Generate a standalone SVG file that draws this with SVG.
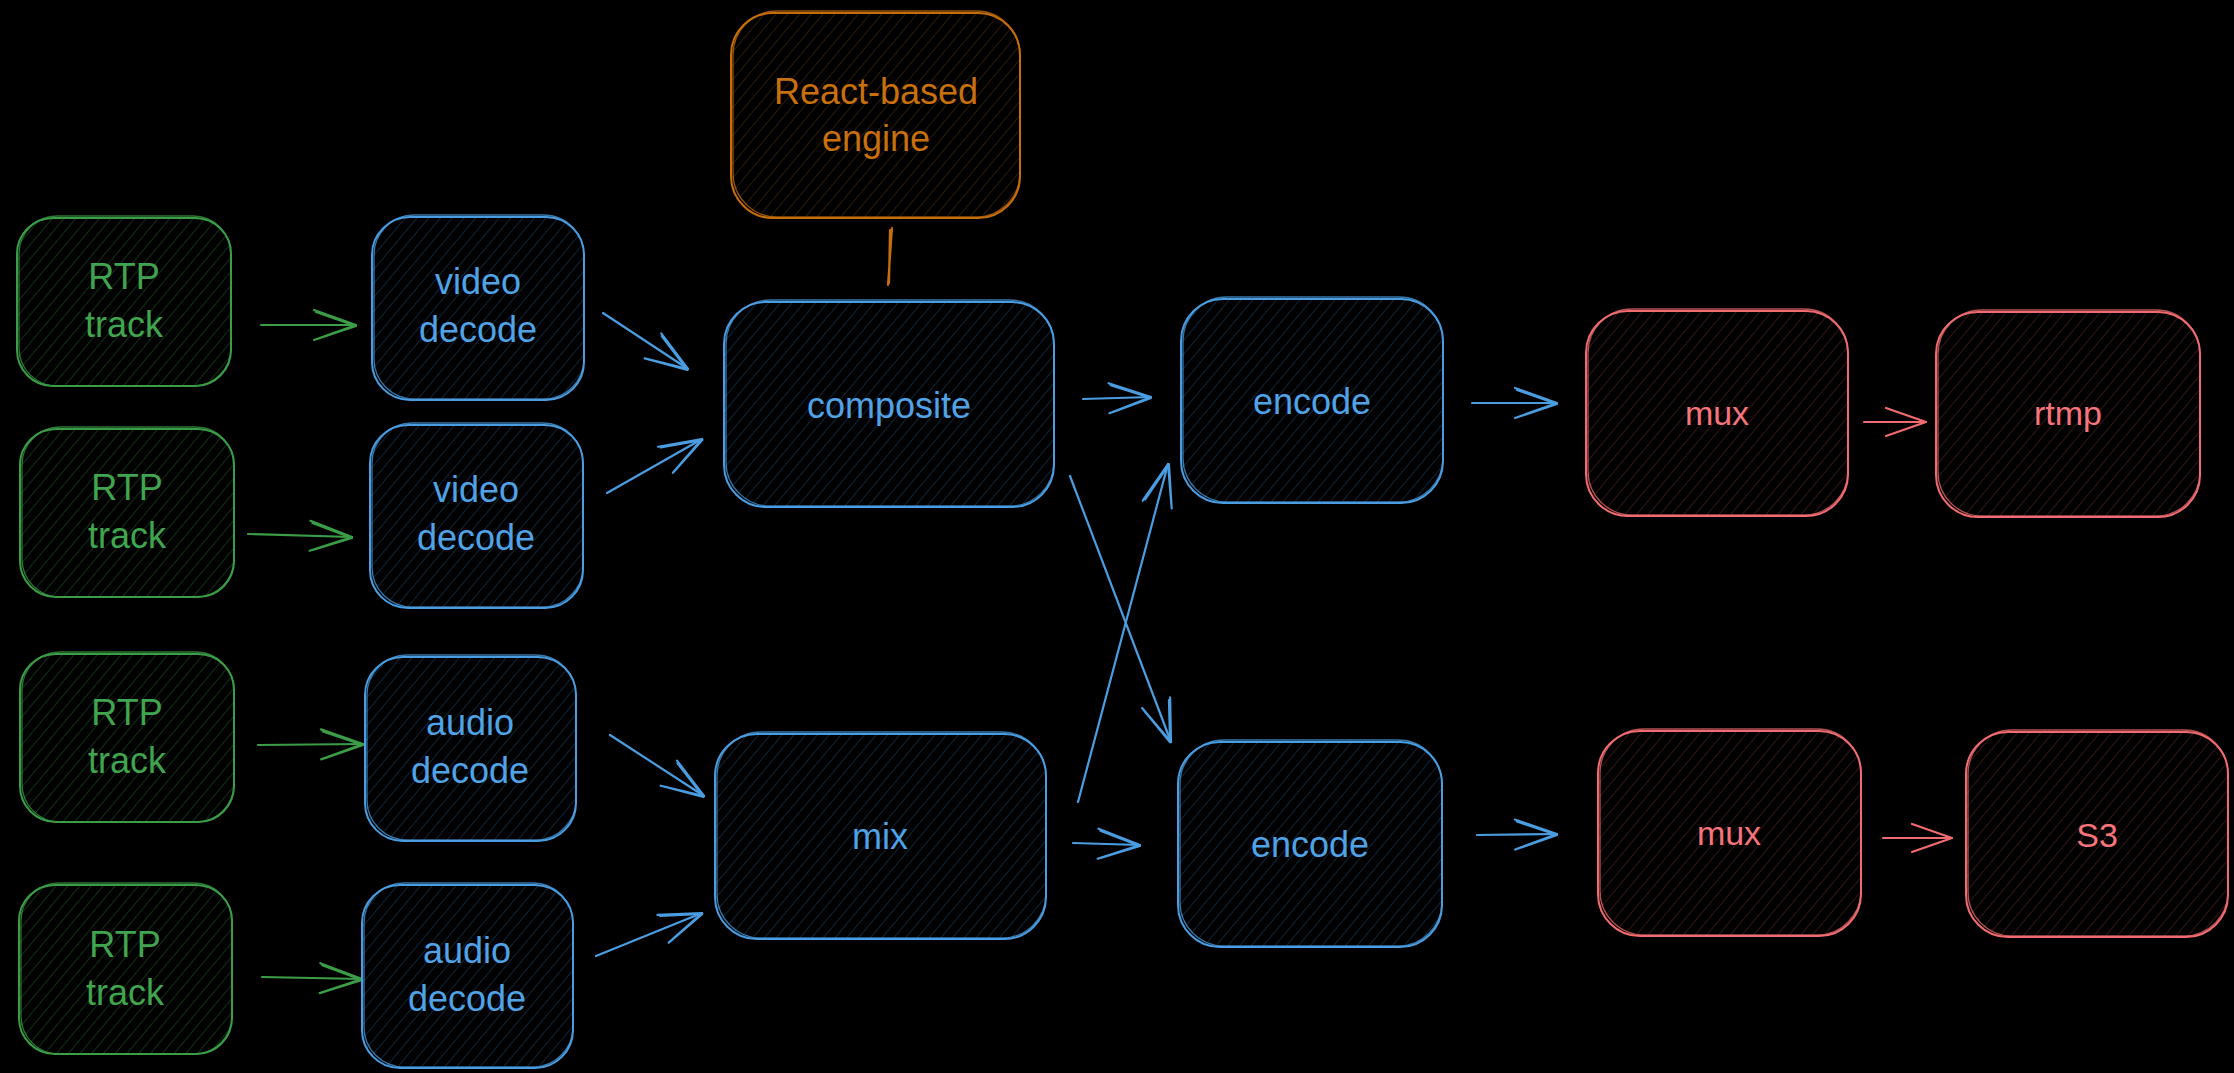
<svg xmlns="http://www.w3.org/2000/svg" width="2234" height="1073" viewBox="0 0 2234 1073">
<style>
.t{font-family:"Liberation Sans","Noto Sans",sans-serif;font-size:36px;text-anchor:middle}
.ts{font-size:34px}
.g .s{stroke:#3b9e47}.g text{fill:#40a54f}.g .f{fill:url(#hg)}
.b .s{stroke:#4a9de0}.b text{fill:#4fa3e6}.b .f{fill:url(#hb)}
.o .s{stroke:#c76e0c}.o text{fill:#c8700d}.o .f{fill:url(#ho)}
.r .s{stroke:#f06c70}.r text{fill:#f6747a}.r .f{fill:url(#hr)}
.s{fill:none;stroke-width:2;stroke-linejoin:round}
.s2{stroke-width:1.3;opacity:.75}
.c{fill:none;stroke-width:2.2;stroke-linecap:round}
.cg{stroke:#3b9e47}.cb{stroke:#4a9de0}.cr{stroke:#f06c70}.co{stroke:#c76e0c}
</style>
<defs>
<pattern id="hg" patternUnits="userSpaceOnUse" width="9" height="9" patternTransform="rotate(40)"><line x1="0" y1="0" x2="0" y2="9" stroke="#1a5222" stroke-width="1.2"/></pattern>
<pattern id="hb" patternUnits="userSpaceOnUse" width="9" height="9" patternTransform="rotate(40)"><line x1="0" y1="0" x2="0" y2="9" stroke="#17405f" stroke-width="1.2"/></pattern>
<pattern id="ho" patternUnits="userSpaceOnUse" width="9" height="9" patternTransform="rotate(40)"><line x1="0" y1="0" x2="0" y2="9" stroke="#4a2c08" stroke-width="1.2"/></pattern>
<pattern id="hr" patternUnits="userSpaceOnUse" width="9" height="9" patternTransform="rotate(40)"><line x1="0" y1="0" x2="0" y2="9" stroke="#552424" stroke-width="1.2"/></pattern>
<marker id="ag" markerUnits="userSpaceOnUse" viewBox="-50 -25 54 50" markerWidth="54" markerHeight="50" refX="0" refY="0" orient="auto" overflow="visible"><path d="M-42 -15 L0 0 L-42 15 M-40 -13 L0 1 L-39 14" fill="none" stroke="#3b9e47" stroke-width="2.2" stroke-linecap="round" stroke-linejoin="round"/></marker>
<marker id="ab" markerUnits="userSpaceOnUse" viewBox="-50 -25 54 50" markerWidth="54" markerHeight="50" refX="0" refY="0" orient="auto" overflow="visible"><path d="M-42 -15 L0 0 L-42 15 M-40 -13 L0 1 L-39 14" fill="none" stroke="#4a9de0" stroke-width="2.2" stroke-linecap="round" stroke-linejoin="round"/></marker>
<marker id="ar" markerUnits="userSpaceOnUse" viewBox="-50 -25 54 50" markerWidth="54" markerHeight="50" refX="0" refY="0" orient="auto" overflow="visible"><path d="M-40 -14 L0 0 L-40 14" fill="none" stroke="#f06c70" stroke-width="2.2" stroke-linecap="round" stroke-linejoin="round"/></marker>
</defs>
<rect width="2234" height="1073" fill="#000"/>

<g id="connectors">
<path class="c cg" d="M261 325 L356 325" marker-end="url(#ag)"/>
<path class="c cg" d="M248 534 L352 537" marker-end="url(#ag)"/>
<path class="c cg" d="M258 745 L363 744" marker-end="url(#ag)"/>
<path class="c cg" d="M262 977 L362 979" marker-end="url(#ag)"/>
<path class="c cb" d="M603 313 L688 369" marker-end="url(#ab)"/>
<path class="c cb" d="M607 493 L702 439" marker-end="url(#ab)"/>
<path class="c cb" d="M610 735 L704 796" marker-end="url(#ab)"/>
<path class="c cb" d="M596 956 L702 913" marker-end="url(#ab)"/>
<path class="c cb" d="M1083 399 L1151 397" marker-end="url(#ab)"/>
<path class="c cb" d="M1070 476 L1171 742" marker-end="url(#ab)"/>
<path class="c cb" d="M1078 802 L1168 464" marker-end="url(#ab)"/>
<path class="c cb" d="M1073 843 L1140 845" marker-end="url(#ab)"/>
<path class="c cb" d="M1472 403 L1557 403" marker-end="url(#ab)"/>
<path class="c cb" d="M1477 835 L1557 834" marker-end="url(#ab)"/>
<path class="c cr" d="M1864 422 L1926 422" marker-end="url(#ar)"/>
<path class="c cr" d="M1883 838 L1952 838" marker-end="url(#ar)"/>
<path class="c co" d="M892 228 L888 285 M890 230 L889 283"/>
</g>

<g id="rtp1" class="g"><rect class="f" x="17" y="218" width="214" height="168" rx="36"/><rect class="s" x="17" y="218" width="214" height="168" rx="36"/><rect class="s s2" x="19" y="216" width="212" height="170" rx="38"/><text class="t" x="124" y="289">RTP</text><text class="t" x="124" y="337">track</text></g>
<g id="video1" class="b"><rect class="f" x="372" y="217" width="212" height="183" rx="38"/><rect class="s" x="372" y="217" width="212" height="183" rx="38"/><rect class="s s2" x="374" y="215" width="210" height="184" rx="40"/><text class="t" x="478" y="294">video</text><text class="t" x="478" y="342">decode</text></g>
<g id="rtp2" class="g"><rect class="f" x="20" y="429" width="214" height="168" rx="36"/><rect class="s" x="20" y="429" width="214" height="168" rx="36"/><rect class="s s2" x="22" y="427" width="212" height="170" rx="38"/><text class="t" x="127" y="500">RTP</text><text class="t" x="127" y="548">track</text></g>
<g id="video2" class="b"><rect class="f" x="370" y="425" width="213" height="183" rx="38"/><rect class="s" x="370" y="425" width="213" height="183" rx="38"/><rect class="s s2" x="372" y="423" width="211" height="184" rx="40"/><text class="t" x="476" y="502">video</text><text class="t" x="476" y="550">decode</text></g>
<g id="rtp3" class="g"><rect class="f" x="20" y="654" width="214" height="168" rx="36"/><rect class="s" x="20" y="654" width="214" height="168" rx="36"/><rect class="s s2" x="22" y="652" width="212" height="170" rx="38"/><text class="t" x="127" y="725">RTP</text><text class="t" x="127" y="773">track</text></g>
<g id="audio1" class="b"><rect class="f" x="365" y="657" width="211" height="184" rx="38"/><rect class="s" x="365" y="657" width="211" height="184" rx="38"/><rect class="s s2" x="367" y="655" width="209" height="185" rx="40"/><text class="t" x="470" y="735">audio</text><text class="t" x="470" y="783">decode</text></g>
<g id="rtp4" class="g"><rect class="f" x="19" y="885" width="213" height="169" rx="36"/><rect class="s" x="19" y="885" width="213" height="169" rx="36"/><rect class="s s2" x="21" y="883" width="211" height="171" rx="38"/><text class="t" x="125" y="957">RTP</text><text class="t" x="125" y="1005">track</text></g>
<g id="audio2" class="b"><rect class="f" x="362" y="885" width="211" height="183" rx="38"/><rect class="s" x="362" y="885" width="211" height="183" rx="38"/><rect class="s s2" x="364" y="883" width="209" height="184" rx="40"/><text class="t" x="467" y="963">audio</text><text class="t" x="467" y="1011">decode</text></g>
<g id="engine" class="o"><rect class="f" x="731" y="13" width="289" height="205" rx="42"/><rect class="s" x="731" y="13" width="289" height="205" rx="42"/><rect class="s s2" x="733" y="11" width="287" height="206" rx="44"/><text class="t" x="876" y="104">React-based</text><text class="t" x="876" y="151">engine</text></g>
<g id="composite" class="b"><rect class="f" x="724" y="302" width="330" height="205" rx="42"/><rect class="s" x="724" y="302" width="330" height="205" rx="42"/><rect class="s s2" x="726" y="300" width="328" height="206" rx="44"/><text class="t" x="889" y="418">composite</text></g>
<g id="mix" class="b"><rect class="f" x="715" y="734" width="331" height="205" rx="42"/><rect class="s" x="715" y="734" width="331" height="205" rx="42"/><rect class="s s2" x="717" y="732" width="329" height="206" rx="44"/><text class="t" x="880" y="849">mix</text></g>
<g id="encode1" class="b"><rect class="f" x="1181" y="299" width="262" height="204" rx="42"/><rect class="s" x="1181" y="299" width="262" height="204" rx="42"/><rect class="s s2" x="1183" y="297" width="260" height="205" rx="44"/><text class="t" x="1312" y="414">encode</text></g>
<g id="encode2" class="b"><rect class="f" x="1178" y="742" width="264" height="205" rx="42"/><rect class="s" x="1178" y="742" width="264" height="205" rx="42"/><rect class="s s2" x="1180" y="740" width="262" height="206" rx="44"/><text class="t" x="1310" y="857">encode</text></g>
<g id="mux1" class="r"><rect class="f" x="1586" y="311" width="262" height="205" rx="42"/><rect class="s" x="1586" y="311" width="262" height="205" rx="42"/><rect class="s s2" x="1588" y="309" width="260" height="206" rx="44"/><text class="t ts" x="1717" y="425">mux</text></g>
<g id="rtmp" class="r"><rect class="f" x="1936" y="312" width="264" height="205" rx="42"/><rect class="s" x="1936" y="312" width="264" height="205" rx="42"/><rect class="s s2" x="1938" y="310" width="262" height="206" rx="44"/><text class="t ts" x="2068" y="425">rtmp</text></g>
<g id="mux2" class="r"><rect class="f" x="1598" y="731" width="263" height="205" rx="42"/><rect class="s" x="1598" y="731" width="263" height="205" rx="42"/><rect class="s s2" x="1600" y="729" width="261" height="206" rx="44"/><text class="t ts" x="1729" y="845">mux</text></g>
<g id="s3" class="r"><rect class="f" x="1966" y="732" width="262" height="205" rx="42"/><rect class="s" x="1966" y="732" width="262" height="205" rx="42"/><rect class="s s2" x="1968" y="730" width="260" height="206" rx="44"/><text class="t ts" x="2097" y="847">S3</text></g>
</svg>
